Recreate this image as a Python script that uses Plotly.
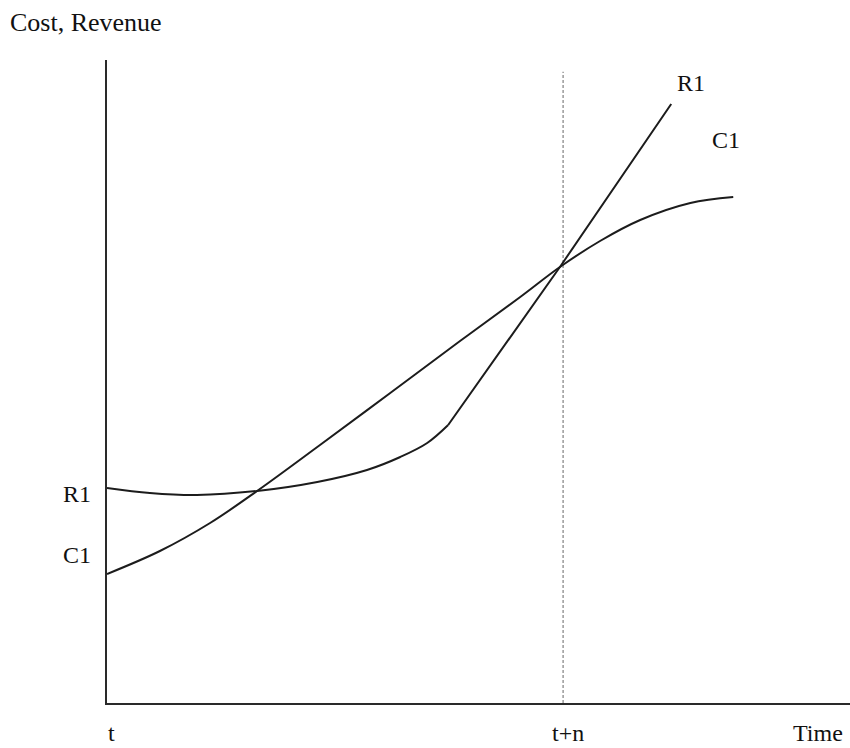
import plotly.graph_objects as go

# Time axis units: t = 0, t+n = 10
T_TICKS = [0, 10]
T_LABELS = ["t", "t+n"]

# Revenue curve R1 (curved part, then straight part after the kink)
r1_curve_x = [0, 0.94, 1.97, 3.29, 4.61, 5.70, 6.43, 7.02, 7.48]
r1_curve_y = [5.375, 5.25, 5.20, 5.30, 5.525, 5.825, 6.15, 6.50, 6.95]
r1_line_x = [7.48, 9.93, 12.37]
r1_line_y = [6.95, 10.90, 14.975]

# Cost curve C1
c1_x = [0, 1.16, 2.26, 3.29, 4.67, 6.21, 7.74, 9.06, 9.93, 10.81, 11.69, 12.79, 13.73]
c1_y = [3.225, 3.80, 4.50, 5.30, 6.45, 7.75, 9.05, 10.15, 10.90, 11.55, 12.075, 12.50, 12.65]

# Dashed marker at t+n
marker_x = [10, 10]
marker_y = [0, 15.78]

X_MAX = 16.29
Y_MAX = 16.075

LINE = "#1c1c1c"
FONT = "Liberation Serif, Times New Roman, serif"

fig = go.Figure()
fig.add_trace(go.Scatter(x=marker_x, y=marker_y, mode="lines",
                         line=dict(color="#9a9a9a", width=1.5, dash="3px,2px"),
                         hoverinfo="skip", showlegend=False))
fig.add_trace(go.Scatter(x=r1_curve_x, y=r1_curve_y, mode="lines",
                         line=dict(color=LINE, width=2, shape="spline", smoothing=1.0),
                         showlegend=False))
fig.add_trace(go.Scatter(x=r1_line_x, y=r1_line_y, mode="lines",
                         line=dict(color=LINE, width=2),
                         showlegend=False))
fig.add_trace(go.Scatter(x=c1_x, y=c1_y, mode="lines",
                         line=dict(color=LINE, width=2, shape="spline", smoothing=1.0),
                         showlegend=False))

tf = dict(family=FONT, size=24, color="#111111")
ann = []
# axis titles
ann.append(dict(text="Cost, Revenue", xref="paper", yref="paper", x=-0.1332, y=1.059,
                xanchor="left", yanchor="middle", showarrow=False,
                font=dict(family=FONT, size=26, color="#111111")))
ann.append(dict(text="Time", xref="paper", yref="paper", x=0.957, y=-0.0467,
                xanchor="center", yanchor="middle", showarrow=False, font=tf))
# time tick labels
for tl, px in zip(T_LABELS, [0.0067, 0.6205]):
    ann.append(dict(text=tl, xref="paper", yref="paper", x=px, y=-0.0467,
                    xanchor="center", yanchor="middle", showarrow=False, font=tf))
# curve labels
ann.append(dict(text="R1", xref="paper", yref="paper", x=-0.0188, y=0.325,
                xanchor="right", yanchor="middle", showarrow=False, font=tf))
ann.append(dict(text="C1", xref="paper", yref="paper", x=-0.0188, y=0.230,
                xanchor="right", yanchor="middle", showarrow=False, font=tf))
ann.append(dict(text="R1", xref="x", yref="y", x=12.81, y=15.5,
                xanchor="center", yanchor="middle", showarrow=False, font=tf))
ann.append(dict(text="C1", xref="x", yref="y", x=13.57, y=14.075,
                xanchor="center", yanchor="middle", showarrow=False, font=tf))

fig.update_layout(
    width=850, height=748,
    margin=dict(l=107, r=0, t=60, b=45, pad=0),
    paper_bgcolor="white", plot_bgcolor="white",
    annotations=ann,
    xaxis=dict(range=[0, X_MAX], showgrid=False, zeroline=False, showticklabels=False,
               ticks="", showline=True, linecolor="#2a2a2a", linewidth=2, fixedrange=True),
    yaxis=dict(range=[0, Y_MAX], showgrid=False, zeroline=False, showticklabels=False,
               ticks="", showline=True, linecolor="#2a2a2a", linewidth=2, fixedrange=True),
)
fig.write_html("out.html", config={"displayModeBar": False},
               post_script="document.body.style.margin='0';document.body.style.overflow='hidden';")
